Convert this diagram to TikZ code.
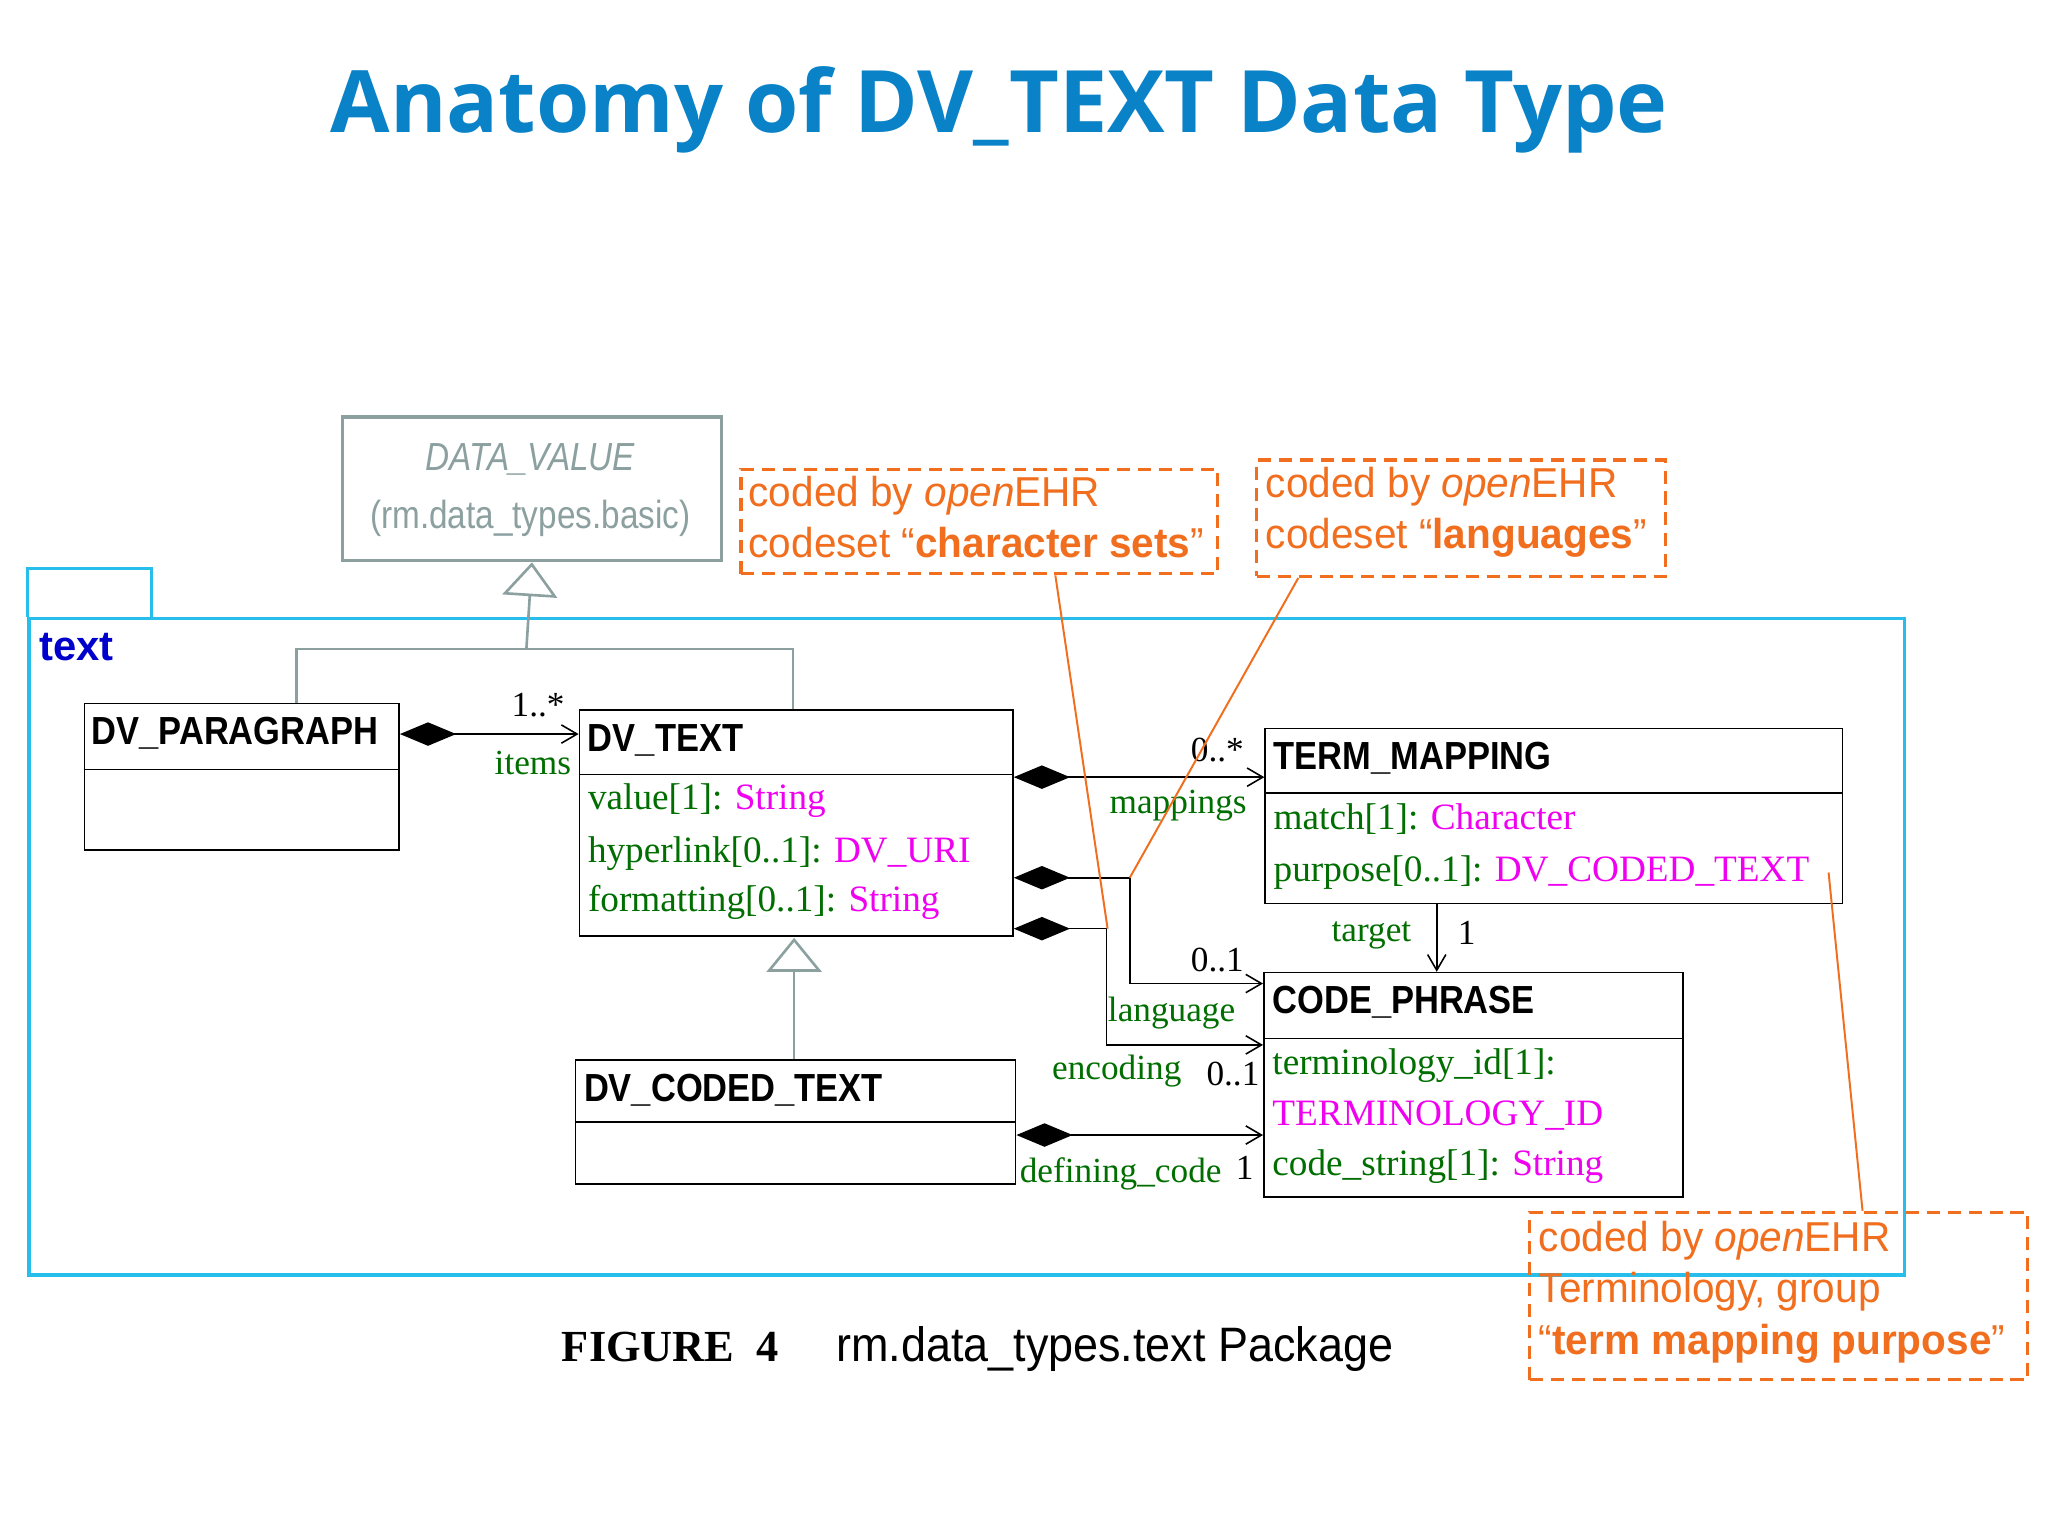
\documentclass[tikz,border=0pt]{standalone}
\usepackage{fontspec}
\setmainfont{Liberation Serif}
\newfontfamily\arial{Liberation Sans}
\newfontfamily\titlef{Open Sans}
\usetikzlibrary{arrows.meta,calc}
\definecolor{ttl}{RGB}{10,130,200}
\definecolor{pkg}{RGB}{40,190,235}
\definecolor{grn}{RGB}{0,110,0}
\definecolor{mag}{RGB}{240,0,240}
\definecolor{org}{RGB}{240,110,30}
\definecolor{gry}{RGB}{140,160,160}
\begin{document}
\begin{tikzpicture}[x=1pt,y=-1pt,
 cls/.style={draw,line width=1.2pt,anchor=north west,inner sep=0},
 cname/.style={anchor=base west,font=\arial\bfseries\fontsize{30}{30}\selectfont,xscale=0.88,inner sep=0},
 attr/.style={anchor=base west,font=\fontsize{28.5}{28.5}\selectfont,text=grn,inner sep=0},
 lab/.style={font=\fontsize{27}{27}\selectfont,inner sep=0},
 note/.style={draw=org,dashed,line width=2.5pt,dash pattern=on 10pt off 6pt,anchor=north west,inner sep=0},
 ntxt/.style={anchor=base west,font=\arial\fontsize{32}{32}\selectfont,xscale=0.97,text=org,inner sep=0},
 comp/.style={line width=1.2pt,{Diamond[length=43pt,width=18pt]}-{Straight Barb[length=12pt,width=14pt]}},
 gen/.style={draw=gry,line width=2pt,-{Triangle[open,length=26pt,width=42pt]}},
 oline/.style={draw=org,line width=1.5pt}]
\useasboundingbox (0,0) rectangle (1568,1176);
\fill[white] (0,0) rectangle (1568,1176);
\node[font=\titlef\bfseries\fontsize{66}{66}\selectfont,text=ttl] (title) at (765,84) {Anatomy of DV\_TEXT Data Type};
% package
\draw[pkg,line width=2.5pt] (21,472) -- (21,435) -- (116,435) -- (116,472);
\node[draw=pkg,line width=2.5pt,anchor=north west,minimum width=1436,minimum height=503,inner sep=0] (pk) at (21,472) {};
\node[anchor=base west,font=\arial\bfseries\fontsize{32}{32}\selectfont,text=blue!80!black,inner sep=0] (pkn) at (30,506) {text};
% DATA_VALUE
\node[draw=gry,line width=2.5pt,anchor=north west,minimum width=290,minimum height=110,inner sep=0] (dv) at (261,318) {};
\node[font=\arial\itshape\fontsize{30}{30}\selectfont,xscale=0.85,text=gry] (dvn) at (406,352) {DATA\_VALUE};
\node[font=\arial\fontsize{30}{30}\selectfont,xscale=0.85,text=gry] (dvp) at (406,397) {(rm.data\_types.basic)};
% classes
\node[cls,minimum width=241,minimum height=112] (par) at (64,538) {};
\draw[line width=1.2pt] (64,589) -- (305,589);
\node[cname] (parn) at (70,570) {DV\_PARAGRAPH};
\node[cls,minimum width=332,minimum height=173] (dvt) at (443,543) {};
\draw[line width=1.2pt] (443,593) -- (775,593);
\node[cname] (dvtn) at (450,575) {DV\_TEXT};
\node[attr] (a1) at (450,620) {value[1]: \textcolor{mag}{String}};
\node[attr] (a2) at (450,660) {hyperlink[0..1]: \textcolor{mag}{DV\_URI}};
\node[attr] (a3) at (450,698) {formatting[0..1]: \textcolor{mag}{String}};
\node[cls,minimum width=337,minimum height=95] (dct) at (440,811) {};
\draw[line width=1.2pt] (440,859) -- (777,859);
\node[cname] (dctn) at (447,843) {DV\_CODED\_TEXT};
\node[cls,minimum width=442,minimum height=134] (tm) at (968,557) {};
\draw[line width=1.2pt] (968,607) -- (1410,607);
\node[cname] (tmn) at (975,589) {TERM\_MAPPING};
\node[attr] (t1) at (975,635) {match[1]: \textcolor{mag}{Character}};
\node[attr] (t2) at (975,675) {purpose[0..1]: \textcolor{mag}{DV\_CODED\_TEXT}};
\node[cls,minimum width=321,minimum height=172] (cp) at (967,744) {};
\draw[line width=1.2pt] (967,795) -- (1288,795);
\node[cname] (cpn) at (974,776) {CODE\_PHRASE};
\node[attr] (c1) at (974,823) {terminology\_id[1]:};
\node[attr,text=mag] (c2) at (974,862) {TERMINOLOGY\_ID};
\node[attr] (c3) at (974,900) {code\_string[1]: \textcolor{mag}{String}};
% generalisation
\draw[gry,line width=2pt] (par.north -| 227,0) -- (227,497) -- (607,497) -- (607,543);
\draw[gen] (403,497) -- (dv.south);
\draw[gen] (dct.north -| 608,0) -- (608,718);
% compositions
\draw[comp] (par.east |- 0,562) -- (dvt.west |- 0,562);
\node[lab] (m1) at (412,540) {1..*};
\node[lab,text=grn] (m2) at (408,584) {items};
\draw[comp] (dvt.east |- 0,595) -- (tm.west |- 0,595);
\node[lab] (m3) at (932,574) {0..*};
\node[lab,text=grn] (m4) at (902,617) {mappings};
\draw[comp] (dvt.east |- 0,672) -- (865,672) -- (865,753) -- (cp.west |- 0,753);
\node[lab] (m5) at (932,735) {0..1};
\node[lab,text=grn] (m6) at (897,776) {language};
\draw[comp] (dvt.east |- 0,711) -- (847,711) -- (847,800) -- (cp.west |- 0,800);
\node[lab,text=grn] (m7) at (855,820) {encoding};
\node[lab] (m8) at (944,822) {0..1};
\draw[comp] (dct.east |- 0,869) -- (cp.west |- 0,869);
\node[lab,text=grn] (m9) at (858,899) {defining\_code};
\node[lab] (m10) at (953,894) {1};
\draw[line width=1.2pt,-{Straight Barb[length=12pt,width=14pt]}] (tm.south -| 1100,0) -- (cp.north -| 1100,0);
\node[lab,text=grn] (m11) at (1050,716) {target};
\node[lab] (m12) at (1123,714) {1};
% notes
\node[note,minimum width=365,minimum height=80] (n1) at (566,358) {};
\node[ntxt] at (573,388) {coded by \textit{open}EHR};
\node[ntxt] at (573,427) {codeset “\textbf{character sets}”};
\node[note,minimum width=313,minimum height=89] (n2) at (961,351) {};
\node[ntxt] at (969,381) {coded by \textit{open}EHR};
\node[ntxt] at (969,420) {codeset “\textbf{languages}”};
\node[note,minimum width=381,minimum height=128] (n3) at (1170,927) {};
\node[ntxt] at (1178,958) {coded by \textit{open}EHR};
\node[ntxt] at (1178,997) {Terminology, group};
\node[ntxt] at (1178,1037) {“\textbf{term mapping purpose}”};
\coordinate (o1) at (848,711);
\coordinate (o2) at (865,672);
\coordinate (o3) at (1400,668);
\draw[oline] (n1.south -| 808,0) -- (o1);
\draw[oline] (n2.south -| 994,0) -- (o2);
\draw[oline] (o3) -- (n3.north -| 1426,0);
% caption
\node[anchor=base west,font=\bfseries\fontsize{34}{34}\selectfont,inner sep=0] (cap1) at (430,1042) {FIGURE\ \ 4};
\node[anchor=base west,font=\arial\fontsize{37}{37}\selectfont,xscale=0.93,inner sep=0] (cap2) at (640,1042) {rm.data\_types.text Package};
\end{tikzpicture}
\end{document}
